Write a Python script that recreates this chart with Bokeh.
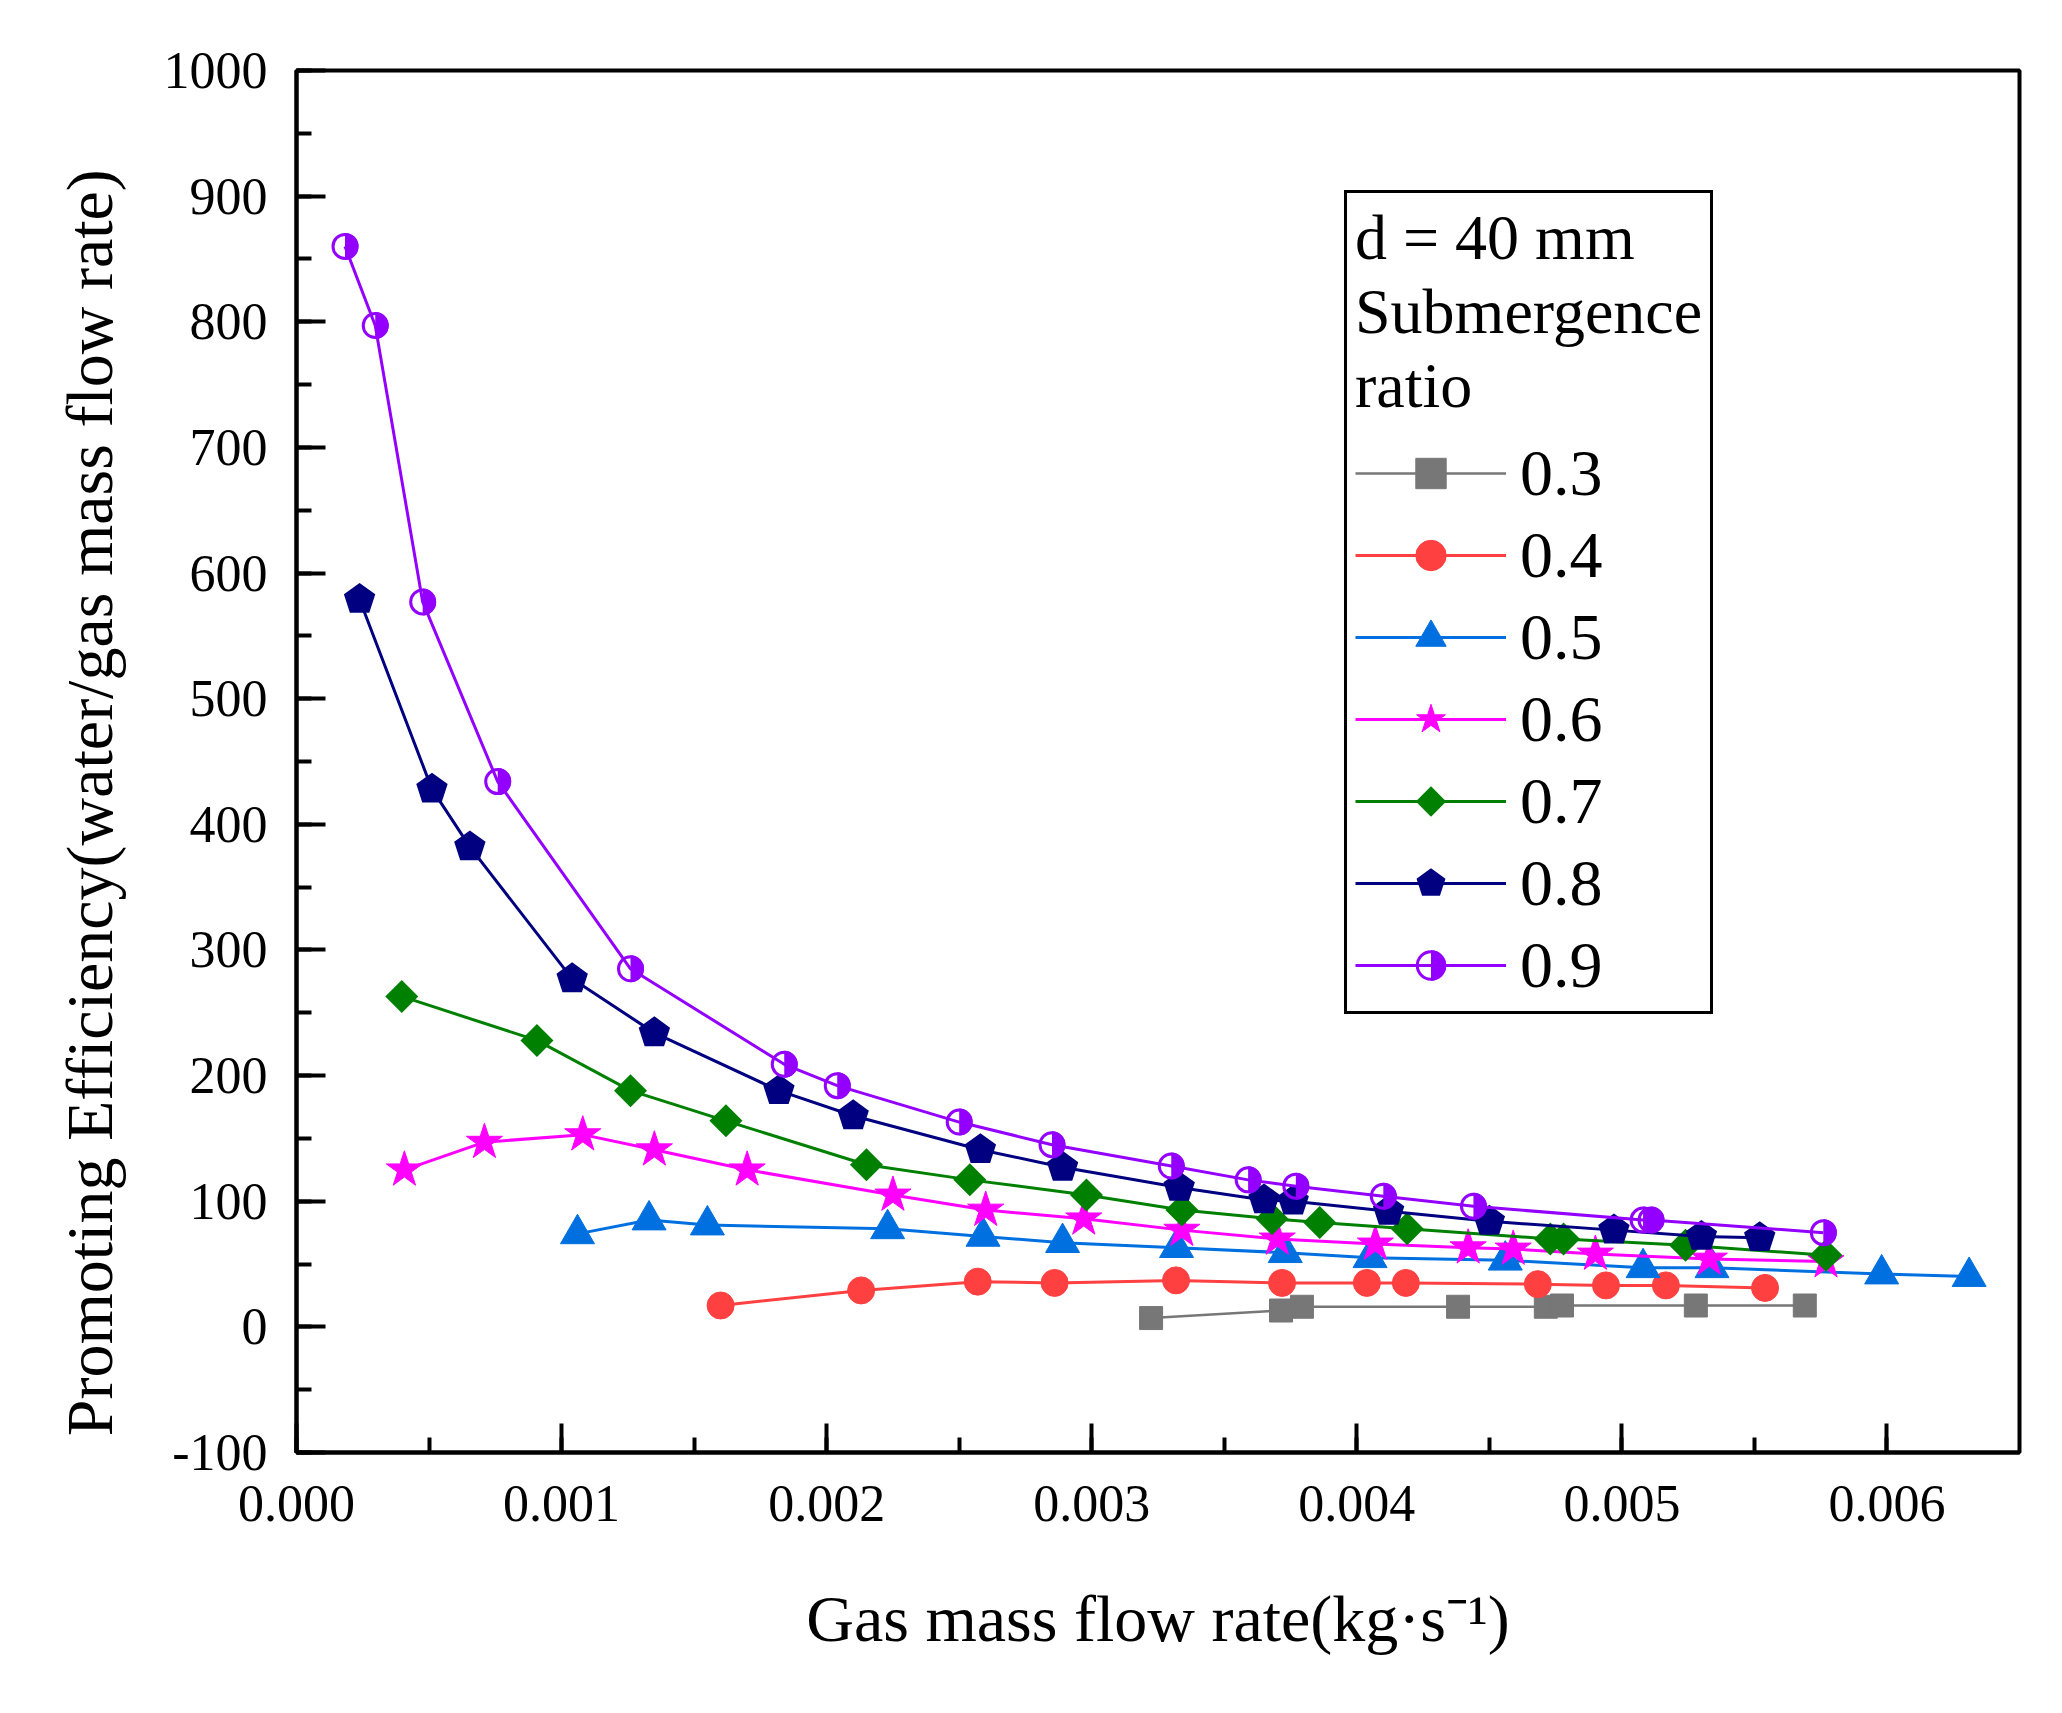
import numpy as np
from bokeh.plotting import figure
from bokeh.models import FixedTicker, PrintfTickFormatter, Legend, LegendItem, CustomJS
from bokeh.core.properties import value
from bokeh.embed import file_html
from bokeh.resources import INLINE

# ---------------- data ----------------
x03 = [0.003224, 0.003714, 0.003793, 0.004382, 0.004713, 0.004774, 0.005279, 0.005690]
y03 = [7, 13, 16, 16, 16, 17, 17, 17]

x04 = [0.00160, 0.00213, 0.00257, 0.00286, 0.003318, 0.003718, 0.004038, 0.004185, 0.004683, 0.00494, 0.005166, 0.00554]
y04 = [17, 29, 36, 35, 37, 35, 35, 35, 34, 33, 33, 31]

x05 = [0.00106, 0.00133, 0.00155, 0.00223, 0.00259, 0.00289, 0.00332, 0.00373, 0.00405, 0.00456, 0.00508, 0.00534, 0.00598, 0.00631]
y05 = [74, 85, 81, 78, 72, 67, 63, 59, 55, 53, 47, 47, 42, 40]

x06 = [0.000407, 0.000709, 0.00108, 0.00135, 0.00170, 0.00225, 0.00260, 0.00297, 0.00334, 0.00370, 0.00407, 0.00442, 0.00459, 0.00490, 0.00533, 0.00577]
y06 = [125, 147, 153, 141, 125, 105, 93, 86, 77, 70, 66, 63, 62, 58, 54, 52]

x07 = [0.000397, 0.000907, 0.00126, 0.00162, 0.00215, 0.00254, 0.00298, 0.00334, 0.00368, 0.00386, 0.00419, 0.00473, 0.00478, 0.00524, 0.00577]
y07 = [263, 228, 188, 164, 129, 117, 105, 93, 86, 83, 78, 70, 70, 65, 57]

x08 = [0.000238, 0.000511, 0.000654, 0.00104, 0.00135, 0.00182, 0.00210, 0.00258, 0.00289, 0.00333, 0.00365, 0.00376, 0.00412, 0.00450, 0.00497, 0.00530, 0.00552]
y08 = [579, 428, 382, 277, 234, 188, 168, 141, 127, 111, 101, 100, 92, 84, 77, 72, 71]

x09 = [0.000183, 0.000297, 0.000476, 0.000759, 0.00126, 0.00184, 0.00204, 0.00250, 0.00285, 0.00330, 0.00359, 0.00377, 0.00410, 0.00444, 0.00508, 0.00511, 0.00576]
y09 = [860, 797, 577, 434, 285, 209, 192, 163, 145, 128, 117, 112, 104, 96, 85, 85, 75]

labels = ["0.3", "0.4", "0.5", "0.6", "0.7", "0.8", "0.9"]
x_ticks = [0.000, 0.001, 0.002, 0.003, 0.004, 0.005, 0.006]
y_ticks = [-100, 0, 100, 200, 300, 400, 500, 600, 700, 800, 900, 1000]

FONT = "Liberation Serif"

p = figure(width=2048, height=1698, output_backend="svg", toolbar_location=None,
           x_range=(0, 0.0065), y_range=(-100, 1000),
           min_border_left=296, min_border_right=29, min_border_top=70, min_border_bottom=246,
           background_fill_color="white", border_fill_color="white")
p.xgrid.visible = False
p.ygrid.visible = False
p.outline_line_color = "black"
p.outline_line_width = 4

p.xaxis.ticker = FixedTicker(ticks=x_ticks, minor_ticks=list(np.arange(0, 0.0065, 0.0005)))
p.yaxis.ticker = FixedTicker(ticks=y_ticks, minor_ticks=list(range(-100, 1001, 50)))
p.xaxis.formatter = PrintfTickFormatter(format="%.3f")
p.yaxis.formatter = PrintfTickFormatter(format="%d")

for ax in (p.xaxis[0], p.yaxis[0]):
    ax.axis_line_width = 4
    ax.axis_line_color = "black"
    ax.major_tick_in = 29
    ax.major_tick_out = 0
    ax.minor_tick_in = 15
    ax.minor_tick_out = 0
    ax.major_tick_line_width = 4
    ax.minor_tick_line_width = 4
    ax.major_label_text_font = FONT
    ax.major_label_text_font_size = "52px"
    ax.major_label_text_color = "black"
    ax.axis_label_text_font = FONT
    ax.axis_label_text_font_size = "66px"
    ax.axis_label_text_font_style = "normal"
    ax.axis_label_text_color = "black"

p.xaxis.major_label_standoff = 33
p.yaxis.major_label_standoff = 29
p.xaxis.axis_label = "Gas mass flow rate(kg·s⁻¹)"
# trailing no-break spaces push the (rotated) label down, as in the reference
p.yaxis.axis_label = "Promoting Efficiency(water/gas mass flow rate)" + "\u00a0" * 5
p.xaxis.axis_label_standoff = 58
p.yaxis.axis_label_standoff = 35

# custom markers drawn straight onto the canvas context
PENTAGON = """
const ctx = cb_data.ctx; const r = cb_data.r;
ctx.beginPath();
for (let k = 0; k < 5; k++) {
  const a = -Math.PI / 2 + k * 2 * Math.PI / 5;
  const px = r * Math.cos(a), py = r * Math.sin(a);
  if (k == 0) { ctx.moveTo(px, py); } else { ctx.lineTo(px, py); }
}
ctx.closePath();
ctx.fillStyle = color; ctx.fill();
"""
DIAMOND = """
const ctx = cb_data.ctx; const r = cb_data.r;
ctx.beginPath();
ctx.moveTo(0, -r); ctx.lineTo(r, 0); ctx.lineTo(0, r); ctx.lineTo(-r, 0);
ctx.closePath();
ctx.fillStyle = color; ctx.fill();
"""
HALF = """
const ctx = cb_data.ctx; const r = cb_data.r;
ctx.beginPath();
ctx.moveTo(0, -r);
ctx.arc(0, 0, r, -Math.PI / 2, Math.PI / 2, false);
ctx.closePath();
ctx.fillStyle = color; ctx.fill();
ctx.beginPath();
ctx.arc(0, 0, r - 1.5, 0, 2 * Math.PI, false);
ctx.lineWidth = 3; ctx.strokeStyle = color; ctx.stroke();
"""

items = []

def series(xs, ys, color, marker, size, lw=3, label="", code=None):
    l = p.line(xs, ys, line_color=color, line_width=lw)
    if code is None:
        s = p.scatter(xs, ys, marker=marker, size=size, fill_color=color, line_color=color,
                      line_width=1)
    else:
        name = "@" + marker
        s = p.scatter(xs, ys, marker=value(name), size=size, fill_color=color, line_color=color,
                      defs={name: CustomJS(args=dict(color=color), code=code)})
    items.append(LegendItem(label=label, renderers=[l, s]))

series(x03, y03, "#777777", "square", 23, lw=2.5, label=labels[0])
series(x04, y04, "#FF4040", "circle", 27, label=labels[1])
series(x05, y05, "#0070E0", "triangle", 34, label=labels[2])
series(x06, y06, "#FF00FF", "star", 38, label=labels[3])
series(x07, y07, "#008000", "diamond", 33, label=labels[4], code=DIAMOND)
series(x08, y08, "#000080", "pentagon", 33, label=labels[5], code=PENTAGON)
series(x09, y09, "#9400FF", "halfcircle", 27, label=labels[6], code=HALF)

legend = Legend(items=items, location=(1048, 438),
                title="d = 40 mm\nSubmergence\nratio",
                title_text_font=FONT, title_text_font_size="64px", title_text_font_style="normal",
                title_text_color="black", title_standoff=12,
                label_text_font=FONT, label_text_font_size="66px", label_text_color="black",
                glyph_width=151, glyph_height=76, label_height=76, label_standoff=14,
                spacing=6, padding=8, margin=0,
                border_line_color="black", border_line_width=3, border_line_alpha=1.0,
                background_fill_color="white", background_fill_alpha=1.0)
p.add_layout(legend, "center")

open("out.html", "w").write(file_html(p, INLINE))
